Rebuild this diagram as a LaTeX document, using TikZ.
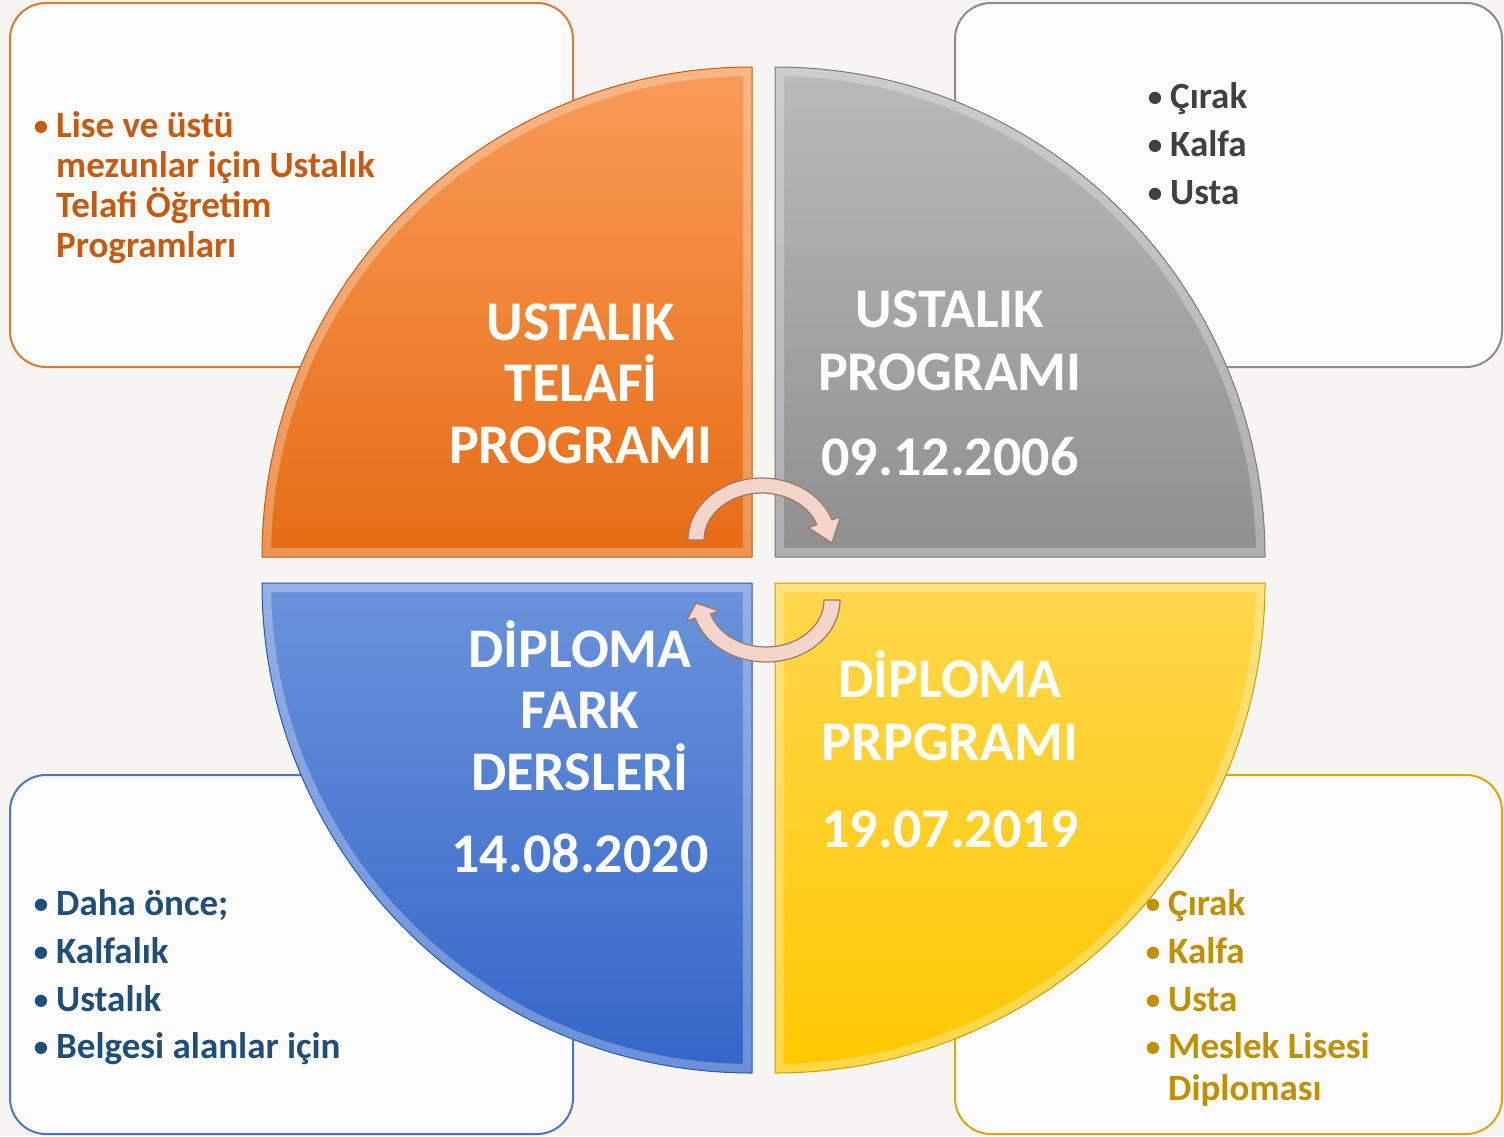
\documentclass[tikz,border=0pt]{standalone}
\usepackage{fontspec}
\setmainfont{Carlito}
\usetikzlibrary{calc}
\definecolor{bgc}{HTML}{F6F5F2}
\definecolor{boxfill}{HTML}{FCFCFC}
\definecolor{oline}{HTML}{DB7A35}
\definecolor{gline}{HTML}{8C8C8C}
\definecolor{bline}{HTML}{4A74C4}
\definecolor{yline}{HTML}{D9A514}
\definecolor{otxt}{HTML}{C55A11}
\definecolor{gtxt}{HTML}{404040}
\definecolor{btxt}{HTML}{1F4E79}
\definecolor{ytxt}{HTML}{BF9000}
\definecolor{otop}{HTML}{F99B58}
\definecolor{obot}{HTML}{E66C14}
\definecolor{gtop}{HTML}{BABABA}
\definecolor{gbot}{HTML}{8F8F8F}
\definecolor{btop}{HTML}{6B93DB}
\definecolor{bbot}{HTML}{3366C8}
\definecolor{ytop}{HTML}{FFD74D}
\definecolor{ybot}{HTML}{FFC800}
\definecolor{arrowfill}{HTML}{F3D5CB}
\definecolor{arrowedge}{HTML}{A07868}
\tikzset{
  infobox/.style={rounded corners=36pt, line width=2pt, fill=boxfill},
  bigtxt/.style={text=white, font=\fontsize{56}{61}\selectfont\bfseries, inner sep=0pt, anchor=base},
  smalltxt/.style={font=\fontsize{37}{42}\selectfont\bfseries, inner sep=0pt, anchor=base west},
  bul/.style={font=\fontsize{29}{34}\selectfont\bfseries, inner sep=0pt, anchor=base},
  arrowband/.style={fill=arrowfill, draw=arrowedge, line width=1.2pt, line join=round},
  qo/.style={insert path={(752,557) -- (262,557) arc[start angle=180,end angle=270,radius=490] -- cycle}},
  qg/.style={insert path={(775,557) -- (775,67) arc[start angle=270,end angle=360,radius=490] -- cycle}},
  qb/.style={insert path={(752,583) -- (752,1073) arc[start angle=90,end angle=180,radius=490] -- cycle}},
  qy/.style={insert path={(775,583) -- (1265,583) arc[start angle=0,end angle=90,radius=490] -- cycle}},
}
\begin{document}
\begin{tikzpicture}[x=1pt,y=-1pt]
\useasboundingbox (0,0) rectangle (1504,1136);
\fill[bgc] (0,0) rectangle (1504,1136);

% info boxes
\draw[infobox, draw=oline] (10,3) rectangle (573,367);
\draw[infobox, draw=gline] (955,3) rectangle (1502,367);
\draw[infobox, draw=bline] (10,775) rectangle (573,1134);
\draw[infobox, draw=yline] (955,775) rectangle (1502,1134);

% quadrants
\shade[top color=otop, bottom color=obot, qo];
\begin{scope}\clip[qo]; \draw[white, opacity=.28, line width=18pt, qo]; \end{scope}
\draw[obot!85!black, line width=1pt, line join=round, qo];

\shade[top color=gtop, bottom color=gbot, qg];
\begin{scope}\clip[qg]; \draw[white, opacity=.28, line width=18pt, qg]; \end{scope}
\draw[gbot!85!black, line width=1pt, line join=round, qg];

\shade[top color=btop, bottom color=bbot, qb];
\begin{scope}\clip[qb]; \draw[white, opacity=.28, line width=18pt, qb]; \end{scope}
\draw[bbot!85!black, line width=1pt, line join=round, qb];

\shade[top color=ytop, bottom color=ybot, qy];
\begin{scope}\clip[qy]; \draw[white, opacity=.28, line width=18pt, qy]; \end{scope}
\draw[ybot!80!black, line width=1pt, line join=round, qy];

% circular arrows
\coordinate (ca) at (762,540);
\coordinate (cb) at (766,600);
\filldraw[arrowband] ($(ca)+(180:74 and 62)$) arc[start angle=180,end angle=341,x radius=74,y radius=62]
  -- ($(ca)+(341:83 and 71)$) -- ($(ca)+(3:70 and 56)$) -- ($(ca)+(341:49 and 38)$)
  -- ($(ca)+(341:58 and 47)$) arc[start angle=341,end angle=180,x radius=58,y radius=47] -- cycle;
\filldraw[arrowband] ($(cb)+(0:74 and 62)$) arc[start angle=0,end angle=163,x radius=74,y radius=62]
  -- ($(cb)+(163:83 and 71)$) -- ($(cb)+(177:70 and 56)$) -- ($(cb)+(163:49 and 38)$)
  -- ($(cb)+(163:58 and 47)$) arc[start angle=163,end angle=0,x radius=58,y radius=47] -- cycle;

% quadrant texts
\node[bigtxt] (o1) at (581,340) {USTALIK};
\node[bigtxt] (o2) at (581,401) {TELAFİ};
\node[bigtxt] (o3) at (581,463) {PROGRAMI};
\node[bigtxt] (g1) at (950,327) {USTALIK};
\node[bigtxt] (g2) at (950,390) {PROGRAMI};
\node[bigtxt] (g3) at (950,475) {09.12.2006};
\node[bigtxt] (b1) at (580,667) {DİPLOMA};
\node[bigtxt] (b2) at (580,728) {FARK};
\node[bigtxt] (b3) at (580,790) {DERSLERİ};
\node[bigtxt] (b4) at (580,872) {14.08.2020};
\node[bigtxt] (y1) at (950,697) {DİPLOMA};
\node[bigtxt] (y2) at (950,760) {PRPGRAMI};
\node[bigtxt] (y3) at (950,847) {19.07.2019};

% top-left list
\node[bul, text=otxt] (tlb) at (41,135) {•};
\node[smalltxt, text=otxt] (tl1) at (56,137) {Lise ve üstü};
\node[smalltxt, text=otxt] (tl2) at (56,177) {mezunlar için Ustalık};
\node[smalltxt, text=otxt] (tl3) at (56,217) {Telafi Öğretim};
\node[smalltxt, text=otxt] (tl4) at (56,257) {Programları};

% top-right list
\node[bul, text=gtxt] (trb1) at (1155,106) {•};
\node[smalltxt, text=gtxt] (tr1) at (1170,108) {Çırak};
\node[bul, text=gtxt] (trb2) at (1155,154) {•};
\node[smalltxt, text=gtxt] (tr2) at (1170,156) {Kalfa};
\node[bul, text=gtxt] (trb3) at (1155,202) {•};
\node[smalltxt, text=gtxt] (tr3) at (1170,204) {Usta};

% bottom-left list
\node[bul, text=btxt] (blb1) at (41,913) {•};
\node[smalltxt, text=btxt] (bl1) at (56,915) {Daha önce;};
\node[bul, text=btxt] (blb2) at (41,961) {•};
\node[smalltxt, text=btxt] (bl2) at (56,963) {Kalfalık};
\node[bul, text=btxt] (blb3) at (41,1009) {•};
\node[smalltxt, text=btxt] (bl3) at (56,1011) {Ustalık};
\node[bul, text=btxt] (blb4) at (41,1056) {•};
\node[smalltxt, text=btxt] (bl4) at (56,1058) {Belgesi alanlar için};

% bottom-right list
\node[bul, text=ytxt] (brb1) at (1153,913) {•};
\node[smalltxt, text=ytxt] (br1) at (1168,915) {Çırak};
\node[bul, text=ytxt] (brb2) at (1153,961) {•};
\node[smalltxt, text=ytxt] (br2) at (1168,963) {Kalfa};
\node[bul, text=ytxt] (brb3) at (1153,1009) {•};
\node[smalltxt, text=ytxt] (br3) at (1168,1011) {Usta};
\node[bul, text=ytxt] (brb4) at (1153,1056) {•};
\node[smalltxt, text=ytxt] (br4) at (1168,1058) {Meslek Lisesi};
\node[smalltxt, text=ytxt] (br5) at (1168,1100) {Diploması};
\end{tikzpicture}
\end{document}
